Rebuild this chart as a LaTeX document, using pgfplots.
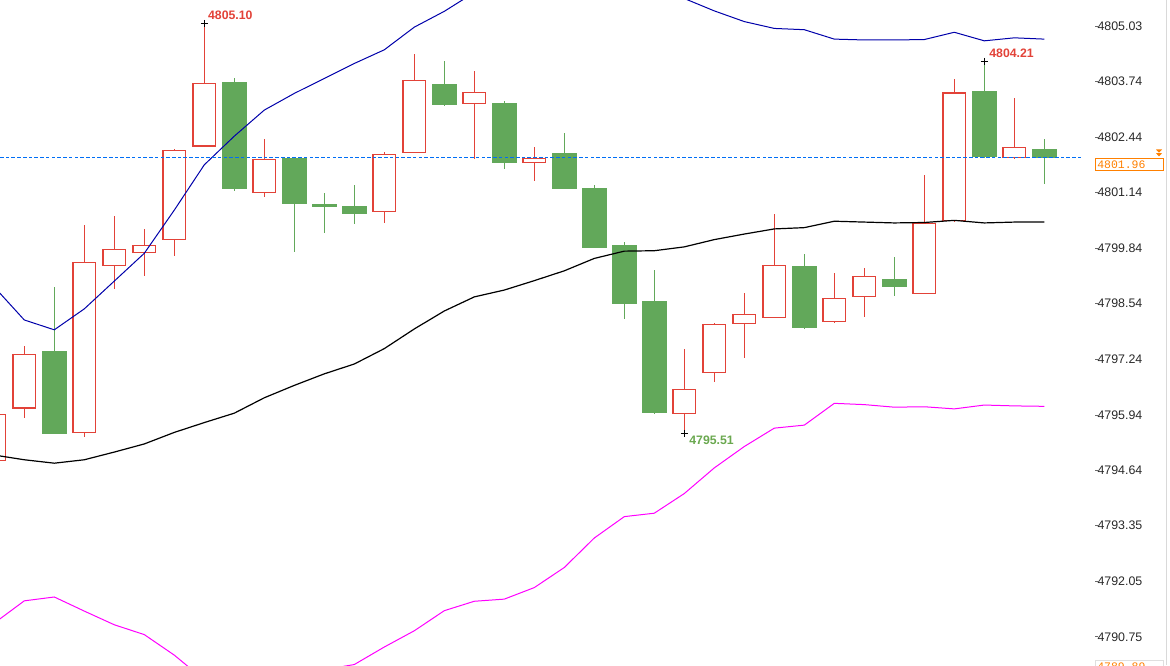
\documentclass[border=0pt]{standalone}
\usepackage{pgfplots}
\pgfplotsset{compat=1.18}
\usepackage{pgfplotstable}
\usepgfplotslibrary{statistics}
\usetikzlibrary{decorations.markings}
\usepackage{fontspec}
\setmainfont{Liberation Sans}
\newfontfamily\pricefont{Liberation Mono}

\definecolor{upred}{RGB}{226,66,56}
\definecolor{dngreen}{RGB}{98,168,90}
\definecolor{bandblue}{RGB}{0,0,170}
\definecolor{bandmag}{RGB}{255,0,255}
\definecolor{lastpx}{RGB}{0,110,245}
\definecolor{priceorange}{RGB}{255,128,0}
\definecolor{lowgreen}{RGB}{106,168,79}
\definecolor{ticktext}{RGB}{40,40,40}

\pgfplotsset{
  up/.style={
    boxplot/every box/.style={draw=upred, fill=white, line width=0.9pt},
    boxplot/every whisker/.style={draw=upred, line width=0.75pt},
    boxplot/every median/.style={draw=none}},
  dn/.style={
    boxplot/every box/.style={draw=dngreen, fill=dngreen, line width=0.4pt},
    boxplot/every whisker/.style={draw=dngreen, line width=0.75pt},
    boxplot/every median/.style={draw=none}},
}
% candle: index, open, high, low, close
\newcommand\bull[5]{\addplot[up, boxplot prepared={draw position=#1, box extend=0.76, whisker extend=0,
  lower whisker=#4, lower quartile=#2, median=#2, upper quartile=#5, upper whisker=#3}] coordinates {};}
\newcommand\bear[5]{\addplot[dn, boxplot prepared={draw position=#1, box extend=0.8, whisker extend=0,
  lower whisker=#4, lower quartile=#5, median=#5, upper quartile=#2, upper whisker=#3}] coordinates {};}
% one dash of the last-price line (low level, no unit vectors involved)
\newcommand\pxdash{\pgfpathrectangle{\pgfqpoint{0pt}{-0.65pt}}{\pgfqpoint{2.7pt}{1.3pt}}%
  \pgfsetfillcolor{lastpx}\pgfusepath{fill}}

% bollinger bands
\pgfplotstableread{
i up mid lo
0 4798.93 4795.00 4791.07
1 4798.16 4794.89 4791.59
2 4797.93 4794.81 4791.68
3 4798.42 4794.89 4791.35
4 4799.07 4795.07 4791.03
5 4799.72 4795.26 4790.80
6 4800.73 4795.53 4790.32
7 4801.79 4795.76 4789.74
8 4802.46 4795.98 4789.51
9 4803.07 4796.34 4789.60
10 4803.46 4796.63 4789.79
11 4803.81 4796.90 4789.98
12 4804.16 4797.13 4790.10
13 4804.48 4797.49 4790.51
14 4805.01 4797.95 4790.89
15 4805.38 4798.37 4791.36
16 4805.82 4798.70 4791.58
17 4806.10 4798.86 4791.63
18 4806.27 4799.08 4791.90
19 4806.24 4799.31 4792.37
20 4806.14 4799.60 4793.06
21 4805.98 4799.77 4793.56
22 4805.92 4799.78 4793.64
23 4805.68 4799.87 4794.10
24 4805.39 4800.04 4794.70
25 4805.14 4800.17 4795.20
26 4804.98 4800.29 4795.63
27 4804.95 4800.32 4795.70
28 4804.73 4800.47 4796.21
29 4804.71 4800.45 4796.18
30 4804.71 4800.43 4796.12
31 4804.72 4800.44 4796.13
32 4804.89 4800.49 4796.08
33 4804.69 4800.43 4796.17
34 4804.76 4800.45 4796.15
35 4804.73 4800.45 4796.14
}\bands

\begin{document}
\begin{tikzpicture}
\begin{axis}[
  at={(0,0)}, anchor=south west,
  scale only axis, width=821.25pt, height=498.75pt,
  xmin=0.19, xmax=36.69, ymin=4790.089, ymax=4805.645,
  axis line style={draw=none},
  xtick=\empty,
  ytick={4790.75,4792.05,4793.35,4794.64,4795.94,4797.24,4798.54,4799.84,4801.14,4802.44,4803.74,4805.03},
  yticklabels={4790.75,4792.05,4793.35,4794.64,4795.94,4797.24,4798.54,4799.84,4801.14,4802.44,4803.74,4805.03},
  ytick pos=right, yticklabel pos=right,
  tick align=outside,
  major tick length=2.5pt,
  major tick style={ticktext!70, line width=0.5pt},
  minor y tick num=4,
  minor tick length=0.8pt,
  minor tick style={gray!60, line width=0.6pt},
  yticklabel style={anchor=west, inner sep=0pt, xshift=-0.8pt,
    font=\fontsize{9.3}{11}\selectfont, text=ticktext},
  boxplot/draw direction=y,
]
\bull{0}{4794.88}{4796.05}{4794.84}{4795.94}
\bull{1}{4796.10}{4797.54}{4795.86}{4797.36}
\bear{2}{4797.42}{4798.94}{4795.49}{4795.51}
\bull{3}{4795.53}{4800.38}{4795.43}{4799.51}
\bull{4}{4799.44}{4800.59}{4798.88}{4799.81}
\bull{5}{4799.74}{4800.29}{4799.20}{4799.91}
\bull{6}{4800.05}{4802.16}{4799.66}{4802.13}
\bull{7}{4802.23}{4805.10}{4802.22}{4803.70}
\bear{8}{4803.73}{4803.81}{4801.18}{4801.25}
\bull{9}{4801.15}{4802.39}{4801.04}{4801.92}
\bear{10}{4801.95}{4801.97}{4799.76}{4800.88}
\bear{11}{4800.87}{4801.14}{4800.20}{4800.81}
\bear{12}{4800.83}{4801.32}{4800.41}{4800.65}
\bull{13}{4800.70}{4802.09}{4800.42}{4802.04}
\bull{14}{4802.08}{4804.38}{4802.07}{4803.77}
\bear{15}{4803.68}{4804.22}{4803.17}{4803.20}
\bull{16}{4803.23}{4803.98}{4801.93}{4803.49}
\bear{17}{4803.24}{4803.28}{4801.70}{4801.84}
\bull{18}{4801.84}{4802.21}{4801.40}{4801.93}
\bear{19}{4802.06}{4802.53}{4801.23}{4801.25}
\bear{20}{4801.25}{4801.32}{4799.86}{4799.87}
\bear{21}{4799.91}{4799.99}{4798.19}{4798.55}
\bear{22}{4798.60}{4799.33}{4795.97}{4795.99}
\bull{23}{4795.98}{4797.48}{4795.51}{4796.54}
\bull{24}{4796.94}{4798.09}{4796.72}{4798.06}
\bull{25}{4798.08}{4798.79}{4797.28}{4798.28}
\bull{26}{4798.22}{4800.65}{4798.21}{4799.44}
\bear{27}{4799.42}{4799.70}{4797.96}{4797.98}
\bull{28}{4798.12}{4799.26}{4798.10}{4798.67}
\bull{29}{4798.71}{4799.38}{4798.24}{4799.18}
\bear{30}{4799.12}{4799.63}{4798.71}{4798.96}
\bull{31}{4798.78}{4801.55}{4798.77}{4800.41}
\bull{32}{4800.48}{4803.80}{4800.47}{4803.47}
\bear{33}{4803.52}{4804.21}{4801.96}{4801.98}
\bull{34}{4801.96}{4803.35}{4801.95}{4802.20}
\bear{35}{4802.16}{4802.40}{4801.35}{4801.96}

\addplot[bandblue, line width=0.75pt] table[x=i, y=up] {\bands};
\addplot[black, line width=0.9pt] table[x=i, y=mid] {\bands};
\addplot[bandmag, line width=0.75pt] table[x=i, y=lo] {\bands};

% last price, dashes laid along the plotted path
\addplot[draw=none, postaction={decorate}, decoration={markings,
    mark=between positions 0 and 1 step 4.3pt with {\pxdash}}]
  coordinates {(0.19,4801.96) (36.19,4801.96)};

% extremes
\addplot[only marks, mark=+, mark size=2.6pt, black, mark options={line width=0.6pt}]
  coordinates {(7,4805.10) (23,4795.51) (33,4804.21)};
\node[anchor=west, inner sep=0pt, text=upred, font=\bfseries\fontsize{9.2}{11}\selectfont]
  at (axis cs:7.12,4805.28) {4805.10};
\node[anchor=west, inner sep=0pt, text=upred, font=\bfseries\fontsize{9.2}{11}\selectfont]
  at (axis cs:33.16,4804.40) {4804.21};
\node[anchor=west, inner sep=0pt, text=lowgreen, font=\bfseries\fontsize{9.2}{11}\selectfont]
  at (axis cs:23.16,4795.35) {4795.51};
\end{axis}

\begin{scope}[x=0.75pt, y=0.75pt]
  \draw[gray!30, line width=0.75pt] (1166,0) -- (1166,665);
  \draw[priceorange, line width=0.75pt, fill=white] (1095.5,494) rectangle (1163,506.7);
  \node[anchor=west, inner sep=0pt, text=priceorange, font=\pricefont\fontsize{8.6}{10}\selectfont]
    at (1097,500.3) {4801.96};
  \fill[priceorange] (1156,515.5) -- (1162,515.5) -- (1159,512.3) -- cycle;
  \fill[priceorange] (1156,511.8) -- (1162,511.8) -- (1159,508.6) -- cycle;
  \draw[gray!25, line width=0.75pt] (1095,-8) rectangle (1163,5);
  \node[anchor=west, inner sep=0pt, text=priceorange, font=\pricefont\fontsize{8.6}{10}\selectfont]
    at (1097,-1.5) {4789.89};
\end{scope}
\pgfresetboundingbox
\path[use as bounding box] (0,0) rectangle (877.5pt,498.75pt);
\end{tikzpicture}
\end{document}
